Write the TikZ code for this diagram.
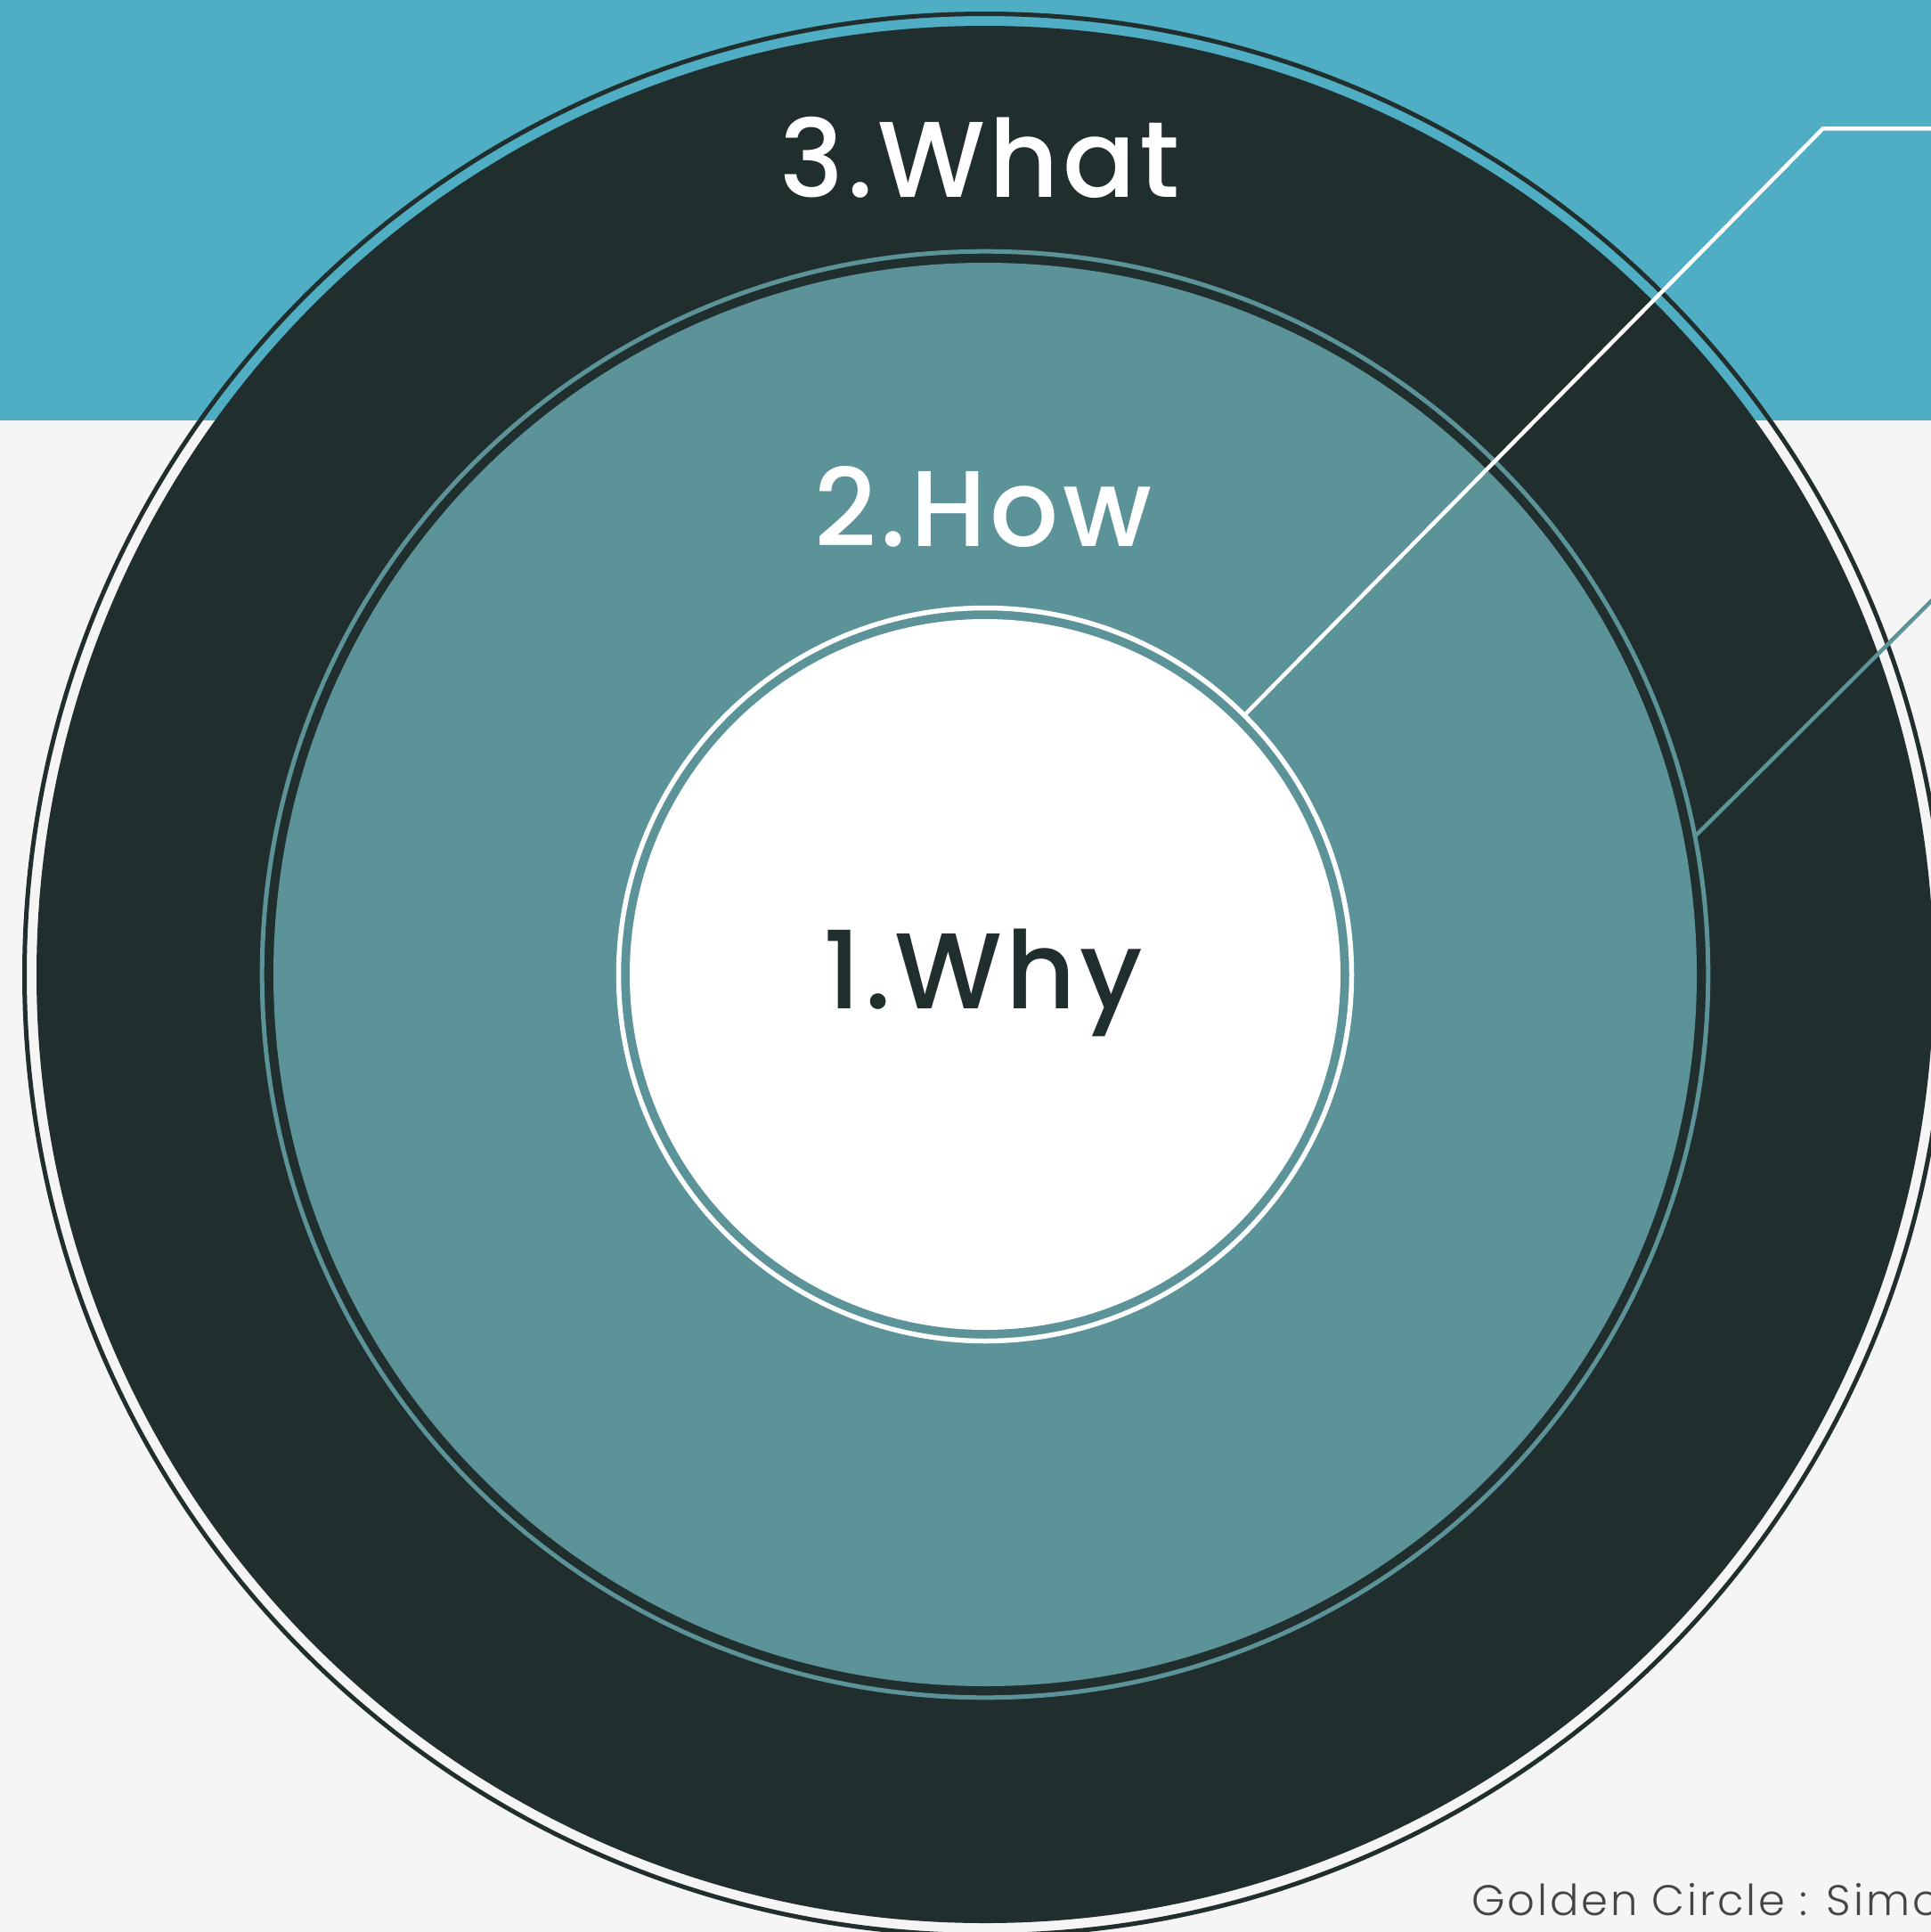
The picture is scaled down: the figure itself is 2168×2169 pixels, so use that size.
\documentclass[tikz,border=0pt]{standalone}
\usepackage{fontspec}
\newfontfamily\labelfont{Poppins Medium}[LetterSpace=3.5]
\newfontfamily\footfont{Poppins Light}[LetterSpace=6]
\definecolor{bandteal}{HTML}{4FAEC3}
\definecolor{darkring}{HTML}{212E2E}
\definecolor{midteal}{HTML}{5B9399}
\definecolor{bggrey}{HTML}{F5F5F5}
\definecolor{foottext}{HTML}{454545}
\tikzset{
  disk/.style={circle, inner sep=0pt, outer sep=0pt, minimum size=#1},
  ring/.style={circle, inner sep=0pt, outer sep=0pt, minimum size=#1, fill=none},
  biglabel/.style={font=\labelfont\fontsize{121}{140}\selectfont, inner sep=0pt, anchor=base},
  leader/.style={line width=4.5pt, line cap=butt, line join=miter}
}
\begin{document}
\begin{tikzpicture}[x=1pt,y=-1pt]
  \useasboundingbox (0,0) rectangle (2168,2169);
  \clip (0,0) rectangle (2168,2169);
  \fill[bggrey] (0,0) rectangle (2168,2169);
  \fill[bandteal] (0,0) rectangle (2168,472);
  % outer ring
  \node[ring=2157pt, draw=darkring, line width=5pt] (whatring) at (1106,1094) {};
  \node[disk=2130pt, fill=darkring] (what) at (1106,1094) {};
  % middle ring
  \node[ring=1623.6pt, draw=midteal, line width=5pt] (howring) at (1106,1094) {};
  \node[disk=1598pt, fill=midteal] (how) at (1106,1094) {};
  % inner ring
  \node[ring=823pt, draw=white, line width=5.5pt] (whyring) at (1106,1094) {};
  \node[disk=798pt, fill=white] (why) at (1106,1094) {};
  % labels
  \node[biglabel, text=white] (lwhat) at (1100,221) {3.What};
  \node[biglabel, text=white] (lhow) at (1104,613) {2.How};
  \node[biglabel, text=darkring] (lwhy) at (1104,1132) {1.Why};
  % leaders
  \coordinate (wcorner) at (2046.7,144.3);
  \coordinate (wend) at (2172,144.3);
  \coordinate (tend) at (2175,668);
  \draw[leader, white] (whyring.45) -- (wcorner) -- (wend);
  \draw[leader, midteal] (howring.11) -- (tend);
  % footer
  \node[font=\footfont\fontsize{48}{58}\selectfont, text=foottext, inner sep=0pt, anchor=base west] (credit) at (1652,2150) {Golden Circle : Simon Sinek};
\end{tikzpicture}
\end{document}
